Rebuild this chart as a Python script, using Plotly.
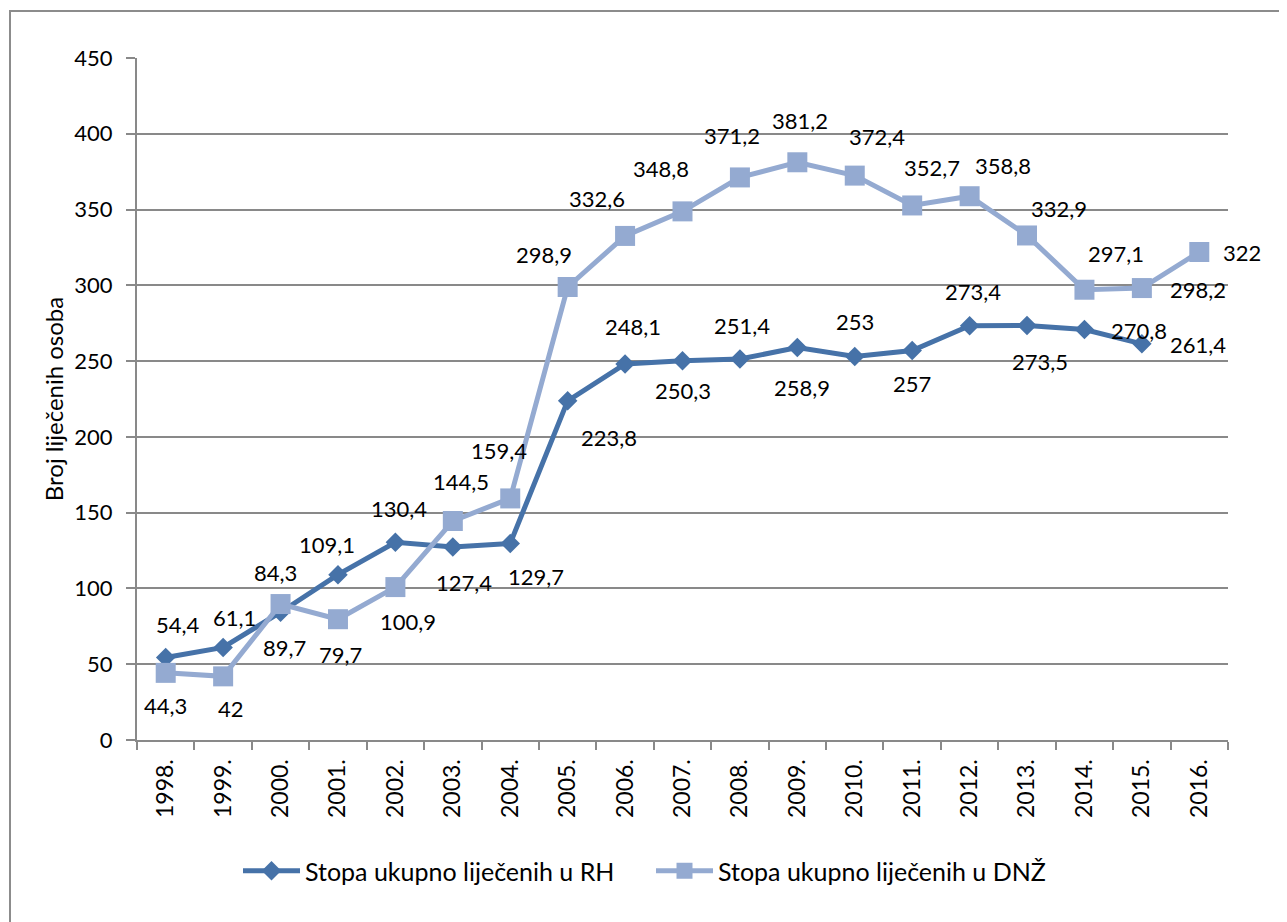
import plotly.graph_objects as go

years = ["1998.", "1999.", "2000.", "2001.", "2002.", "2003.", "2004.", "2005.", "2006.", "2007.",
         "2008.", "2009.", "2010.", "2011.", "2012.", "2013.", "2014.", "2015.", "2016."]
rh = [54.4, 61.1, 84.3, 109.1, 130.4, 127.4, 129.7, 223.8, 248.1, 250.3,
      251.4, 258.9, 253, 257, 273.4, 273.5, 270.8, 261.4, None]
dnz = [44.3, 42, 89.7, 79.7, 100.9, 144.5, 159.4, 298.9, 332.6, 348.8,
       371.2, 381.2, 372.4, 352.7, 358.8, 332.9, 297.1, 298.2, 322]
y_ticks = [0, 50, 100, 150, 200, 250, 300, 350, 400, 450]

name_rh = "Stopa ukupno liječenih u RH"
name_dnz = "Stopa ukupno liječenih u DNŽ"
y_title = "Broj liječenih osoba"

# label offsets in pixels (dx right, dy down)
rh_off = [(12, -33), (11, -30), (-5, -40), (-11, -30), (4, -34), (11, 36), (26, 33), (41, 37),
          (8, -37), (0, 30), (2, -33), (5, 40), (0, -35), (0, 33), (3, -34), (13, 36),
          (55, 1), (56, 1), (0, 0)]
dnz_off = [(0, 33), (8, 32), (4, 43), (3, 35), (13, 34), (8, -40), (-11, -48), (-24, -33),
           (-28, -37), (-22, -43), (-8, -42), (3, -42), (22, -39), (20, -38), (33, -31),
           (32, -27), (32, -36), (56, 1), (43, 1)]

C_RH = "#4672A8"
C_DNZ = "#94AAD1"
GRID = "#898989"
FONT = "Lato, 'Open Sans', sans-serif"

fig = go.Figure()
fig.add_trace(go.Scatter(x=years, y=rh, name=name_rh, mode="lines+markers",
                         line=dict(color=C_RH, width=5),
                         marker=dict(symbol="diamond", size=15, color=C_RH),
                         hoverinfo="skip"))
fig.add_trace(go.Scatter(x=years, y=dnz, name=name_dnz, mode="lines+markers",
                         line=dict(color=C_DNZ, width=5),
                         marker=dict(symbol="square", size=20, color=C_DNZ),
                         hoverinfo="skip"))


def fmt(v):
    return f"{v:g}".replace(".", ",")


ann = []
for series, offs in ((rh, rh_off), (dnz, dnz_off)):
    for i, (v, (dx, dy)) in enumerate(zip(series, offs)):
        if v is None:
            continue
        ann.append(dict(x=i, y=v, xref="x", yref="y", text=fmt(v), showarrow=False,
                        xshift=dx, yshift=-dy, font=dict(family=FONT, size=22, color="#000000")))

# page body has an 8px margin; work in screenshot pixels and offset
OFF = 8
W, H = 1287 - OFF, 922 - OFF
L, R, T, B = 137 - OFF, 1228 - OFF, 58 - OFF, 740 - OFF
pw, ph = R - L, B - T


def px(x):
    return (x - OFF - L) / pw


def py(y):
    return (B - (y - OFF)) / ph


fig.update_layout(
    width=W, height=H,
    margin=dict(l=L, r=W - R, t=T, b=H - B, autoexpand=False),
    paper_bgcolor="white", plot_bgcolor="white",
    font=dict(family=FONT, size=22, color="#000000"),
    annotations=ann,
    showlegend=True,
    legend=dict(orientation="h", x=px(238), xanchor="left", y=py(871), yanchor="middle",
                font=dict(family=FONT, size=25), itemwidth=57, tracegroupgap=0,
                entrywidth=341, entrywidthmode="pixels"),
    shapes=[dict(type="rect", xref="paper", yref="paper", x0=px(10), y0=py(960),
                 x1=px(1320), y1=py(11), line=dict(color="#8C8C8C", width=2),
                 fillcolor="rgba(0,0,0,0)", layer="below")],
)

fig.update_xaxes(type="category", categoryorder="array", categoryarray=years,
                 range=[-0.5, len(years) - 0.5],
                 showline=True, linecolor=GRID, linewidth=2,
                 ticks="outside", tickson="boundaries", ticklen=8, tickcolor=GRID, tickwidth=2,
                 tickangle=-90, showgrid=False, ticklabelstandoff=8,
                 tickfont=dict(family=FONT, size=23))
fig.update_yaxes(range=[0, 450], tickvals=y_ticks, showline=True, linecolor=GRID, linewidth=2,
                 ticks="outside", ticklen=9, tickcolor=GRID, tickwidth=2,
                 showgrid=True, gridcolor=GRID, gridwidth=2, zeroline=False,
                 ticklabelstandoff=9, tickfont=dict(family=FONT, size=22),
                 title=dict(text=y_title, font=dict(family=FONT, size=24), standoff=4))

fig.write_html("out.html")
